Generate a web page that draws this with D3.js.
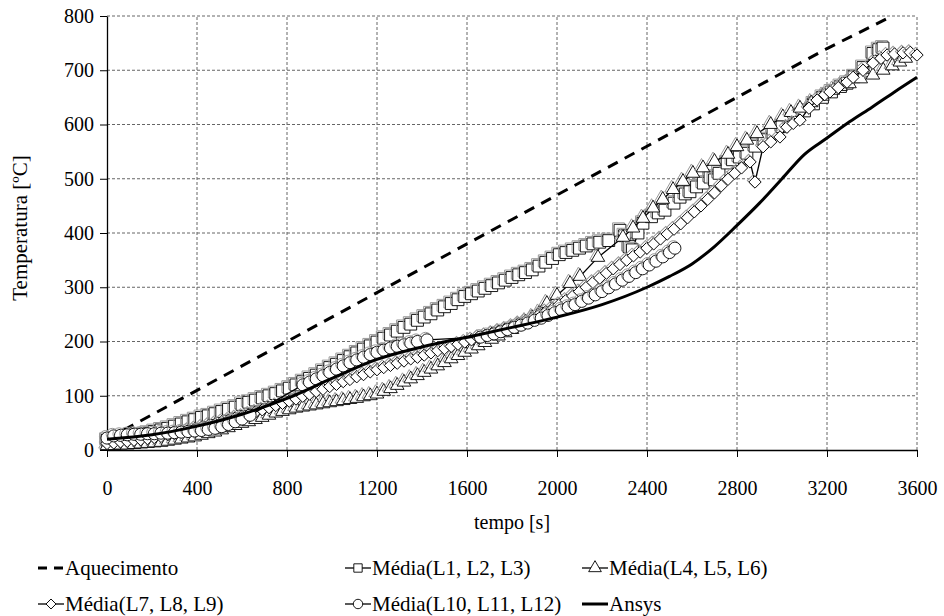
<!DOCTYPE html>
<html>
<head>
<meta charset="utf-8">
<script src="https://cdn.jsdelivr.net/npm/d3@7"></script>
<style>
	body { margin: 0; background: #fff; }
	text { font-family: "Liberation Serif", "Times New Roman", serif; }
</style>
</head>
<body>
<div id="chart"></div>
<script>

// x ticks and y ticks
const time_ticks = [0, 400, 800, 1200, 1600, 2000, 2400, 2800, 3200, 3600]
const temp_ticks = [0, 100, 200, 300, 400, 500, 600, 700, 800]

// furnace heating curve [t, T]
const aquecimento = [[0, 20], [400, 110], [800, 200], [1200, 290], [1600, 380], [2000, 470],
	[2400, 560], [2800, 650], [3200, 740], [3600, 830]]

// média L1, L2, L3
const media_l1_l3 = [[0, 18], [30, 20], [60, 22], [90, 24], [120, 26], [150, 28], [180, 31], [210, 34],
	[240, 37], [270, 40], [300, 44], [330, 48], [360, 52], [390, 56], [420, 60], [450, 63], [480, 67],
	[510, 71], [540, 75], [570, 79], [600, 84], [630, 88], [660, 92], [690, 96], [720, 100], [750, 104],
	[780, 109], [810, 114], [840, 120], [870, 126], [900, 132], [930, 138], [960, 145], [990, 152],
	[1020, 158], [1050, 165], [1080, 172], [1110, 179], [1140, 186], [1170, 192], [1200, 199], [1230, 206],
	[1260, 212], [1290, 219], [1320, 226], [1350, 232], [1380, 239], [1410, 245], [1440, 251], [1470, 258],
	[1500, 264], [1530, 270], [1560, 277], [1590, 283], [1620, 288], [1650, 293], [1680, 298], [1710, 303],
	[1740, 308], [1770, 313], [1800, 318], [1830, 323], [1860, 327], [1890, 332], [1920, 339], [1950, 346],
	[1980, 353], [2010, 360], [2040, 364], [2070, 368], [2100, 372], [2130, 376], [2160, 380], [2190, 383],
	[2230, 386], [2280, 405], [2300, 395], [2320, 375], [2335, 369], [2360, 400], [2382, 418], [2420, 430],
	[2450, 437], [2480, 442], [2520, 455], [2547, 466], [2570, 472], [2591, 476], [2620, 485], [2650, 492],
	[2680, 503], [2700, 498], [2720, 510], [2756, 529], [2780, 535], [2810, 540], [2844, 547], [2880, 560],
	[2920, 572], [2960, 584], [3000, 596], [3036, 608], [3070, 618], [3100, 625], [3140, 638], [3180, 650],
	[3220, 660], [3260, 670], [3289, 676], [3320, 688], [3360, 705], [3404, 731], [3430, 738], [3449, 741]]

// média L4, L5, L6
const media_l4_l6 = [[0, 8], [30, 8], [60, 9], [90, 9], [120, 10], [150, 11], [180, 12], [210, 13],
	[240, 14], [270, 16], [300, 18], [330, 20], [360, 22], [390, 24], [420, 27], [450, 30], [480, 33],
	[510, 37], [540, 41], [570, 45], [600, 49], [630, 52], [660, 56], [690, 60], [720, 64], [750, 68],
	[780, 71], [810, 74], [840, 77], [870, 79], [900, 81], [930, 83], [960, 85], [990, 87], [1020, 89],
	[1050, 91], [1080, 93], [1110, 95], [1140, 98], [1170, 100], [1200, 103], [1230, 108], [1260, 113],
	[1290, 119], [1320, 125], [1350, 131], [1380, 137], [1410, 143], [1440, 149], [1470, 155], [1500, 161],
	[1530, 168], [1560, 174], [1590, 180], [1620, 186], [1650, 192], [1680, 198], [1710, 204], [1740, 210],
	[1770, 216], [1800, 222], [1830, 229], [1860, 236], [1890, 244], [1920, 252], [1955, 270], [2000, 285],
	[2058, 307], [2102, 320], [2182, 355], [2293, 392], [2338, 409], [2382, 427], [2427, 446], [2470, 462],
	[2516, 480], [2560, 495], [2604, 510], [2649, 520], [2700, 532], [2760, 545], [2800, 559], [2844, 571],
	[2889, 583], [2950, 600], [3004, 614], [3040, 622], [3080, 630], [3130, 640], [3180, 652], [3227, 663],
	[3260, 670], [3300, 675], [3350, 684], [3404, 691], [3450, 700], [3490, 708], [3524, 715], [3550, 722]]

// média L7, L8, L9
const media_l7_l9 = [[0, 12], [30, 13], [60, 15], [90, 16], [120, 18], [150, 19], [180, 21], [210, 23],
	[240, 25], [270, 28], [300, 30], [330, 33], [360, 36], [390, 39], [420, 42], [450, 45], [480, 48],
	[510, 52], [540, 55], [570, 59], [600, 62], [630, 66], [660, 70], [690, 74], [720, 78], [750, 82],
	[780, 86], [810, 90], [840, 94], [870, 99], [900, 103], [930, 108], [960, 112], [990, 117], [1020, 121],
	[1050, 126], [1080, 130], [1110, 135], [1140, 139], [1170, 144], [1200, 148], [1230, 152], [1260, 156],
	[1290, 160], [1320, 164], [1350, 168], [1380, 171], [1410, 175], [1440, 179], [1470, 183], [1500, 187],
	[1530, 191], [1560, 195], [1590, 199], [1620, 203], [1650, 207], [1680, 211], [1710, 215], [1740, 219],
	[1770, 223], [1800, 228], [1830, 233], [1860, 238], [1890, 243], [1920, 249], [1950, 255], [1980, 261],
	[2010, 268], [2040, 276], [2070, 284], [2100, 292], [2130, 300], [2160, 309], [2190, 317], [2220, 326],
	[2250, 334], [2280, 342], [2310, 350], [2340, 358], [2370, 365], [2400, 372], [2430, 380], [2460, 389],
	[2490, 398], [2520, 407], [2550, 417], [2580, 428], [2610, 439], [2640, 450], [2670, 462], [2700, 474],
	[2730, 487], [2760, 499], [2790, 510], [2820, 520], [2858, 531], [2880, 494], [2916, 559], [2950, 568],
	[2991, 577], [3022, 595], [3050, 602], [3080, 608], [3120, 630], [3156, 645], [3190, 655], [3213, 660],
	[3250, 668], [3289, 678], [3316, 687], [3360, 700], [3404, 713], [3440, 722], [3467, 728], [3500, 730],
	[3538, 732], [3570, 733], [3600, 728]]

// média L10, L11, L12
const media_l10_l12 = [[0, 22], [30, 26], [60, 27], [90, 28], [120, 29], [150, 29], [180, 30], [210, 30],
	[240, 31], [270, 31], [300, 32], [330, 33], [360, 34], [390, 35], [420, 36], [450, 38], [480, 40],
	[510, 43], [540, 47], [570, 52], [600, 57], [636, 64], [871, 120], [900, 125], [930, 131], [960, 137],
	[990, 143], [1020, 149], [1050, 155], [1080, 161], [1110, 166], [1140, 171], [1170, 176], [1200, 180],
	[1230, 184], [1260, 188], [1290, 191], [1320, 194], [1350, 197], [1380, 200], [1422, 203], [1660, 208],
	[1690, 211], [1720, 214], [1750, 218], [1780, 222], [1810, 226], [1840, 230], [1870, 234], [1900, 239],
	[1930, 243], [1960, 248], [1990, 253], [2020, 258], [2050, 263], [2080, 268], [2110, 274], [2140, 280],
	[2170, 286], [2200, 292], [2230, 299], [2260, 306], [2290, 313], [2320, 320], [2350, 327], [2380, 334],
	[2410, 341], [2440, 348], [2470, 356], [2500, 364], [2524, 372]]

// ansys simulation
const ansys = [[0, 20], [200, 28], [400, 44], [600, 66], [800, 95], [1000, 132], [1200, 167], [1400, 190],
	[1600, 208], [1800, 226], [2000, 245], [2200, 268], [2400, 300], [2500, 320], [2600, 343], [2700, 375],
	[2800, 414], [2900, 455], [3000, 500], [3100, 545], [3200, 575], [3300, 605], [3400, 632], [3500, 660],
	[3600, 687]]

const series_names = ['Aquecimento', 'Média(L1, L2, L3)', 'Média(L4, L5, L6)',
	'Média(L7, L8, L9)', 'Média(L10, L11, L12)', 'Ansys']

const font = '"Liberation Serif", "Times New Roman", serif'

var width = 944
var height = 616
var margin = {left: 107, right: 27, top: 16, bottom: 166}

var svg = d3.select('#chart')
	.append('svg')
	.attr('width', width)
	.attr('height', height)
	.attr('font-family', font)

var x = d3.scaleLinear()
	.domain([0, 3600])
	.range([margin.left, width - margin.right])

var y = d3.scaleLinear()
	.domain([0, 800])
	.range([height - margin.bottom, margin.top])

// grid
svg.append('g')
	.selectAll('line')
	.data(time_ticks.slice(1))
	.enter()
	.append('line')
	.attr('x1', d => x(d)).attr('x2', d => x(d))
	.attr('y1', y(0)).attr('y2', y(800))
	.attr('stroke', '#666')
	.attr('stroke-dasharray', '3,2')

svg.append('g')
	.selectAll('line')
	.data(temp_ticks.slice(1))
	.enter()
	.append('line')
	.attr('x1', x(0)).attr('x2', x(3600))
	.attr('y1', d => y(d)).attr('y2', d => y(d))
	.attr('stroke', '#666')
	.attr('stroke-dasharray', '3,2')

// axes
svg.append('g')
	.attr('transform', 'translate(0,' + y(0) + ')')
	.call(d3.axisBottom(x).tickValues(time_ticks).tickFormat(d3.format('d'))
		.tickSize(7).tickPadding(24).tickSizeOuter(0))
svg.append('g')
	.attr('transform', 'translate(' + x(0) + ',0)')
	.call(d3.axisLeft(y).tickValues(temp_ticks).tickSize(7).tickPadding(6).tickSizeOuter(0))

svg.selectAll('.tick text')
	.attr('font-family', font)
	.attr('font-size', 20)
	.attr('fill', '#000')
svg.selectAll('.domain').attr('stroke', '#000').attr('stroke-width', 1.3)
svg.selectAll('.tick line').attr('stroke', '#000')

// axis titles
svg.append('text')
	.attr('x', (x(0) + x(3600)) / 2)
	.attr('y', 529)
	.attr('text-anchor', 'middle')
	.attr('font-family', font)
	.attr('font-size', 20)
	.text('tempo [s]')

svg.append('text')
	.attr('transform', 'translate(27,' + 228 + ') rotate(-90)')
	.attr('text-anchor', 'middle')
	.attr('font-family', font)
	.attr('font-size', 21)
	.text('Temperatura [ºC]')

var line = d3.line()
	.x(d => x(d[0]))
	.y(d => y(d[1]))

// marker shapes
var symbols = {
	square: d3.symbol().type(d3.symbolSquare).size(140),
	triangle: d3.symbol().type(d3.symbolTriangle).size(80),
	diamond: d3.symbol().type(d3.symbolSquare).size(76),
	circle: d3.symbol().type(d3.symbolCircle).size(115)
}

function drawMarkers(g, data, shape) {
	var rot = shape == 'diamond' ? ' rotate(45)' : ''
	var pts = g.selectAll('g.pt')
		.data(data)
		.enter()
		.append('g')
		.attr('class', 'pt')
	// gray shadow then marker
	pts.append('path')
		.attr('d', symbols[shape])
		.attr('transform', d => 'translate(' + (x(d[0]) - 1.5) + ',' + (y(d[1]) - 1.5) + ')' + rot)
		.attr('fill', 'none')
		.attr('stroke', '#999')
		.attr('stroke-width', 1)
	pts.append('path')
		.attr('d', symbols[shape])
		.attr('transform', d => 'translate(' + x(d[0]) + ',' + y(d[1]) + ')' + rot)
		.attr('fill', '#fff')
		.attr('stroke', '#000')
		.attr('stroke-width', 0.9)
}

var plot = svg.append('g')

// heating curve
plot.append('path')
	.datum(aquecimento.filter(d => d[1] <= 800).concat([[3490, 800]]))
	.attr('d', line)
	.attr('fill', 'none')
	.attr('stroke', '#000')
	.attr('stroke-width', 3)
	.attr('stroke-dasharray', '11,8')

var marked = [
	[media_l1_l3, 'square'],
	[media_l4_l6, 'triangle'],
	[media_l7_l9, 'diamond'],
	[media_l10_l12, 'circle']
]
marked.forEach(s => {
	var g = plot.append('g')
	g.append('path')
		.datum(s[0])
		.attr('d', line)
		.attr('fill', 'none')
		.attr('stroke', '#000')
		.attr('stroke-width', 1.3)
	drawMarkers(g, s[0], s[1])
})

plot.append('path')
	.datum(ansys)
	.attr('d', d3.line().x(d => x(d[0])).y(d => y(d[1])).curve(d3.curveMonotoneX))
	.attr('fill', 'none')
	.attr('stroke', '#000')
	.attr('stroke-width', 3)

// legend
var legend_pos = [[38, 568], [345, 568], [582, 568], [38, 604], [345, 604], [582, 604]]
var legend_shape = [null, 'square', 'triangle', 'diamond', 'circle', null]
series_names.forEach((name, i) => {
	var lx = legend_pos[i][0], ly = legend_pos[i][1]
	var g = svg.append('g')
	var ln = g.append('line')
		.attr('x1', lx).attr('x2', lx + 26)
		.attr('y1', ly).attr('y2', ly)
		.attr('stroke', '#000')
	if (i == 0) ln.attr('stroke-width', 3).attr('stroke-dasharray', '9,7')
	else if (i == 5) ln.attr('stroke-width', 3)
	else ln.attr('stroke-width', 1.3)
	var shape = legend_shape[i]
	if (shape) {
		var sym = d3.symbol()
			.type(shape == 'triangle' ? d3.symbolTriangle : shape == 'circle' ? d3.symbolCircle : d3.symbolSquare)
			.size(shape == 'diamond' ? 50 : 70)
		g.append('path')
			.attr('d', sym)
			.attr('transform', 'translate(' + (lx + 13) + ',' + ly + ')' + (shape == 'diamond' ? ' rotate(45)' : ''))
			.attr('fill', '#fff')
			.attr('stroke', '#000')
			.attr('stroke-width', 0.9)
	}
	g.append('text')
		.attr('x', lx + 27)
		.attr('y', ly + 7)
		.attr('font-family', font)
		.attr('font-size', 21)
		.text(name)
})

</script>
</body>
</html>
